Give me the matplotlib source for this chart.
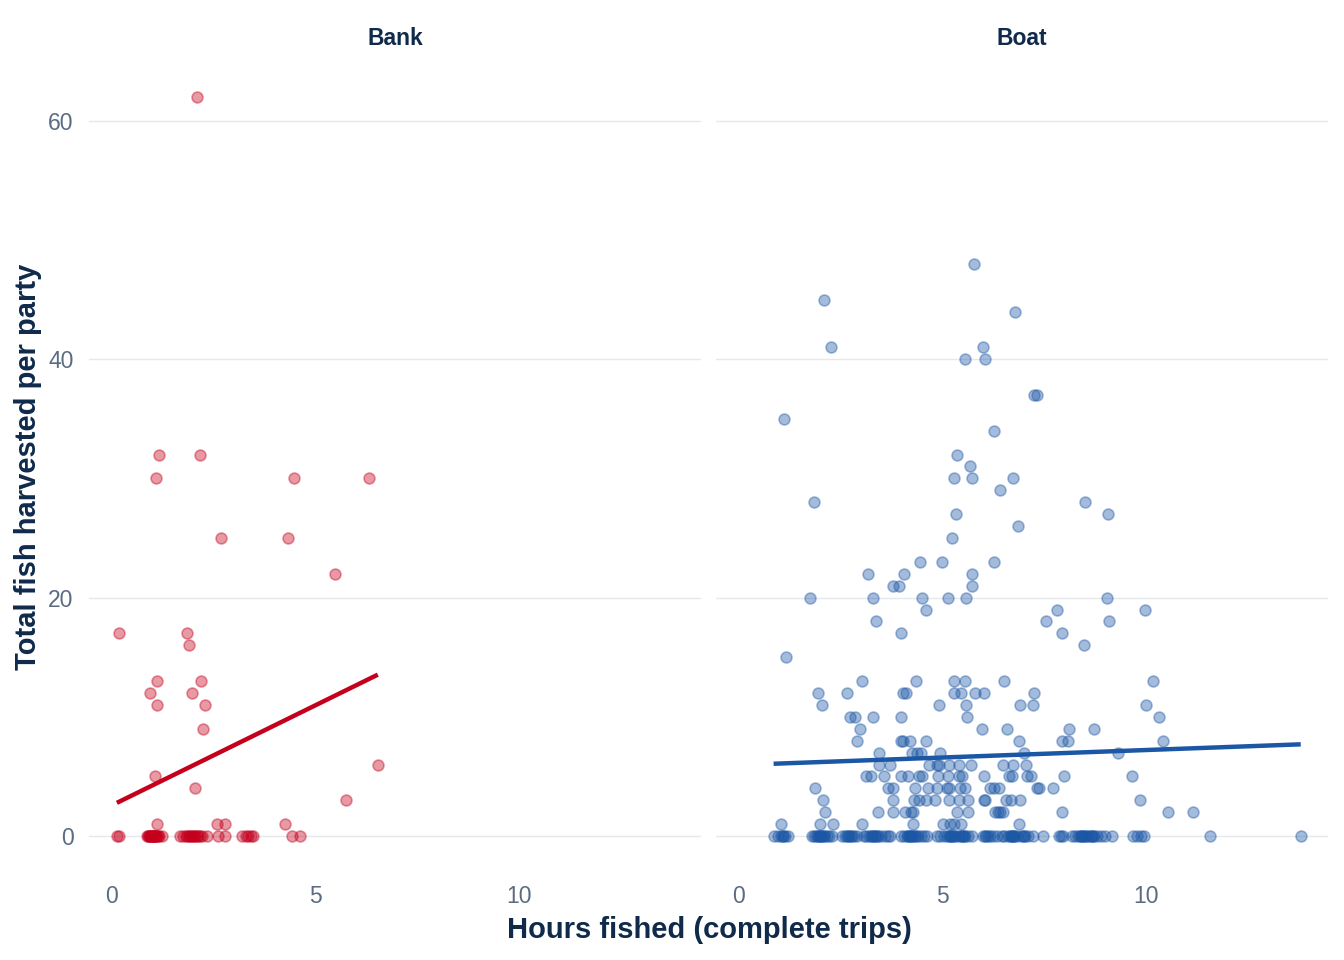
import numpy as np
import matplotlib
matplotlib.use("Agg")
import matplotlib.pyplot as plt

plt.rcParams['font.family'] = ['Liberation Sans', 'DejaVu Sans']

# bank parties that kept fish
bank_hours = [2.09, 1.15, 2.15, 1.09, 4.48, 6.32, 2.67, 4.32, 5.48, 0.16,
              1.84, 1.90, 1.11, 2.19, 0.94, 1.97, 1.11, 2.29, 2.24, 1.05,
              2.05, 6.53, 5.75, 1.11, 2.58, 2.77, 4.25]
bank_fish = [62, 32, 32, 30, 30, 30, 25, 25, 22, 17,
             17, 16, 13, 13, 12, 12, 11, 11, 9, 5,
             4, 6, 3, 1, 1, 1, 1]
# bank parties with zero harvest (many overlap around 1 and 2 hours)
bank_zero_hours = [0.12, 0.17, 0.85, 0.88, 0.92, 0.95, 0.98, 1.02, 1.08, 1.22,
                   0.90, 0.93, 0.96, 1.00, 1.00, 1.03, 1.05, 1.06, 1.10, 1.12, 1.15,
                   1.68, 1.75, 1.82, 1.88, 1.95, 2.02, 2.08, 2.15, 2.22, 2.33,
                   1.85, 1.92, 2.00, 2.05, 2.12,
                   2.61, 2.78, 3.20, 3.28, 3.35, 3.42, 3.47, 4.41, 4.62]

# boat parties that kept fish
boat_hours = [5.77, 2.09, 6.79, 2.25, 6.00, 5.54, 6.04, 7.25, 7.33, 1.10,
              6.27, 5.35, 5.67, 5.28, 5.72, 6.72, 6.42, 1.85, 8.49, 5.32,
              9.07, 6.85, 5.23,
              4.45, 4.98, 6.27, 3.16, 4.06, 5.72, 3.79, 3.92, 5.72,
              1.74, 3.28, 4.50, 5.14, 5.58, 9.04,
              4.59, 7.81, 9.98, 3.36, 7.54, 9.09, 3.98, 7.94, 8.47, 1.15,
              3.03, 4.34, 5.29, 5.55, 6.50, 10.17,
              1.95, 2.66, 4.02, 4.10, 5.29, 5.46, 5.80, 6.03, 7.24,
              2.03, 4.92, 5.58, 6.90, 7.22, 10.01,
              2.72, 2.86, 3.28, 3.98, 5.60, 10.33,
              2.98, 5.96, 6.59, 8.11, 8.71,
              2.90, 3.98, 4.02, 4.20, 4.59, 6.88, 7.94, 8.09, 10.41,
              3.44, 4.26, 4.37, 4.47, 4.94, 6.99, 9.30,
              3.45, 3.70, 4.68, 4.86, 4.92, 5.16, 5.41, 5.70, 6.49, 6.74, 7.05,
              3.12, 3.24, 3.56, 3.97, 4.16, 4.42, 4.49, 4.90, 5.14, 5.40,
              5.47, 6.03, 6.64, 6.70, 7.07, 7.17, 7.99, 9.65,
              1.87, 3.67, 3.78, 4.33, 4.65, 4.86, 5.10, 5.16, 5.43, 5.56,
              6.17, 6.27, 6.39, 7.31, 7.36, 7.71,
              2.07, 3.79, 4.30, 4.42, 4.59, 4.82, 5.17, 5.40, 5.63, 6.03,
              6.05, 6.55, 6.68, 6.90, 9.85,
              2.11, 3.42, 3.78, 4.08, 4.23, 4.27, 5.36, 5.62, 6.29, 6.37,
              6.41, 6.49, 7.94, 10.54, 11.15,
              1.03, 2.00, 2.31, 3.01, 4.27, 5.00, 5.18, 5.29, 5.46, 6.88]
boat_fish = [48, 45, 44, 41, 41, 40, 40, 37, 37, 35,
             34, 32, 31, 30, 30, 30, 29, 28, 28, 27,
             27, 26, 25,
             23, 23, 23, 22, 22, 22, 21, 21, 21,
             20, 20, 20, 20, 20, 20,
             19, 19, 19, 18, 18, 18, 17, 17, 16, 15,
             13, 13, 13, 13, 13, 13,
             12, 12, 12, 12, 12, 12, 12, 12, 12,
             11, 11, 11, 11, 11, 11,
             10, 10, 10, 10, 10, 10,
             9, 9, 9, 9, 9,
             8, 8, 8, 8, 8, 8, 8, 8, 8,
             7, 7, 7, 7, 7, 7, 7,
             6, 6, 6, 6, 6, 6, 6, 6, 6, 6, 6,
             5, 5, 5, 5, 5, 5, 5, 5, 5, 5,
             5, 5, 5, 5, 5, 5, 5, 5,
             4, 4, 4, 4, 4, 4, 4, 4, 4, 4,
             4, 4, 4, 4, 4, 4,
             3, 3, 3, 3, 3, 3, 3, 3, 3, 3,
             3, 3, 3, 3, 3,
             2, 2, 2, 2, 2, 2, 2, 2, 2, 2,
             2, 2, 2, 2, 2,
             1, 1, 1, 1, 1, 1, 1, 1, 1, 1]
# boat parties with zero harvest (dark clusters hold several overlapping trips)
boat_zero_hours = [0.85, 0.95, 1.02, 1.07, 1.12, 1.20, 1.08,
                   1.80, 1.85, 1.90, 1.95, 2.00, 2.08, 2.15, 2.22, 2.28,
                   1.93, 1.98, 2.02, 2.05, 2.10,
                   2.52, 2.60, 2.68, 2.75, 2.82, 2.89, 2.65, 2.70, 2.78,
                   3.06, 3.12, 3.20, 3.27, 3.35, 3.42, 3.50, 3.58, 3.65, 3.71,
                   3.25, 3.30, 3.33, 3.38,
                   3.99, 4.05, 4.12, 4.18, 4.25, 4.32, 4.40, 4.47, 4.54, 4.61,
                   4.15, 4.20, 4.22, 4.28, 4.35,
                   4.86, 4.95, 5.03, 5.10, 5.18, 5.25, 5.32, 5.40, 5.47, 5.55,
                   5.62, 5.72, 5.15, 5.20, 5.22, 5.28, 5.45, 5.50, 5.52,
                   6.00, 6.08, 6.17, 6.25, 6.33, 6.05, 6.12,
                   6.45, 6.52, 6.60, 6.68, 6.76, 6.84, 6.92, 7.00, 7.10, 7.23,
                   6.65, 6.70, 6.72, 6.75, 6.98, 7.02,
                   7.48, 7.85, 7.92, 7.97,
                   8.17, 8.25, 8.33, 8.40, 8.48, 8.56, 8.64, 8.72, 8.80, 8.90,
                   9.00, 9.16, 8.38, 8.42, 8.45, 8.68, 8.70, 8.52, 8.60,
                   9.69, 9.78, 9.87, 9.94,
                   11.57, 13.80]

panels = ["Bank", "Boat"]
colors = {"Bank": "#c4001d", "Boat": "#1c57a5"}
data = {
    "Bank": (bank_hours + bank_zero_hours, bank_fish + [0] * len(bank_zero_hours)),
    "Boat": (boat_hours + boat_zero_hours, boat_fish + [0] * len(boat_zero_hours)),
}

navy = "#0f2a4a"
tick_col = "#5b6b82"

fig = plt.figure(figsize=(13.44, 9.6), dpi=100)
lefts = [89 / 1344, 716 / 1344]
w = 612 / 1344
bottom = 1 - 870 / 960
h = 810 / 960

for i, name in enumerate(panels):
    ax = fig.add_axes([lefts[i], bottom, w, h])
    x = np.array(data[name][0])
    y = np.array(data[name][1], dtype=float)
    c = colors[name]
    ax.scatter(x, y, s=62, facecolor=c, edgecolor=c, alpha=0.4, linewidth=1.2, zorder=2)
    # linear fit over the data range
    k, b = np.polyfit(x, y, 1)
    xs = np.array([x.min(), x.max()])
    ax.plot(xs, k * xs + b, color=c, lw=3.2, zorder=3, solid_capstyle='butt')

    ax.set_xlim(-0.565, 14.47)
    ax.set_ylim(-2.85, 65.1)
    ax.set_xticks([0, 5, 10])
    ax.set_yticks([0, 20, 40, 60])
    ax.grid(axis='y', color='#e6e8ec', lw=1)
    ax.set_axisbelow(True)
    for s in ax.spines.values():
        s.set_visible(False)
    ax.tick_params(length=0, labelsize=16.5, colors=tick_col, pad=11)
    if i == 1:
        ax.tick_params(labelleft=False)
    ax.set_title(name, fontsize=16.5, fontweight='bold', color=navy, pad=11)

fig.text(709 / 1344, 1 - 930 / 960, "Hours fished (complete trips)", ha='center', va='center',
         fontsize=21, fontweight='bold', color=navy)
fig.text(28 / 1344, 1 - 467 / 960, "Total fish harvested per party", ha='center', va='center',
         rotation=90, fontsize=21, fontweight='bold', color=navy)

fig.savefig("out.png", dpi=100)
